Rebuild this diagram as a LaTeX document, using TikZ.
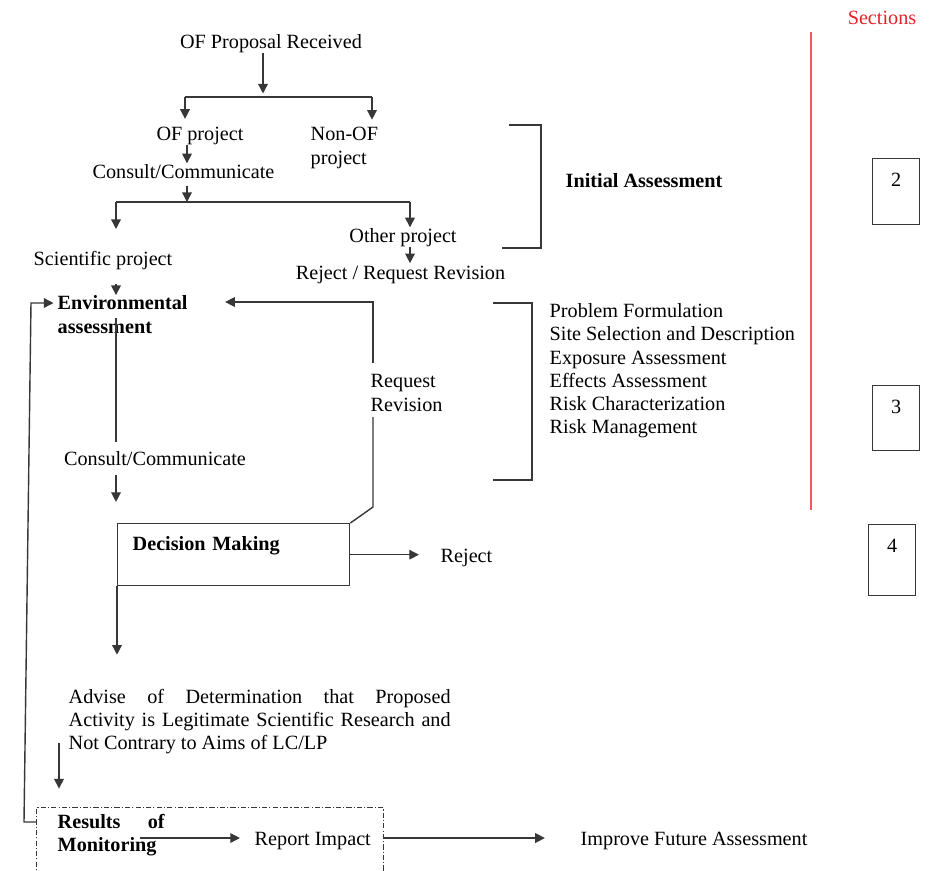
\documentclass[tikz,border=0pt]{standalone}
\usepackage{fontspec}
\setmainfont{Liberation Serif}
\usetikzlibrary{arrows.meta}

\definecolor{secred}{RGB}{232,32,40}
\definecolor{linered}{RGB}{240,90,90}
\definecolor{linegray}{RGB}{55,55,55}

\begin{document}
\begin{tikzpicture}[x=0.02cm, y=-0.02cm, line width=0.8pt]
        \tikzset{
          lbl/.style={inner sep=0pt, font=\fontsize{11.5}{13.2}\selectfont},
          bold/.style={lbl, font=\fontsize{11.5}{13.2}\selectfont\bfseries},
          arr/.style={draw=linegray, -{Triangle[length=5.5pt,width=5.5pt]}},
          ln/.style={draw=linegray},
          decbox/.style={bold, draw=linegray, align=left, text width=4.04cm,
            inner xsep=0.3cm, inner ysep=0pt, text height=0.54cm, text depth=0.7cm},
          monbox/.style={draw=linegray, line width=0.7pt, inner sep=0pt,
            minimum width=6.94cm, minimum height=1.7cm,
            dash pattern={on 3pt off 1.2pt on 0.6pt off 1.2pt}},
          secbox/.style={lbl, draw=linegray, minimum width=0.94cm, text height=0.56cm}
        }
        \useasboundingbox (0,0) rectangle (935,870);
        \clip (0,0) rectangle (935,870);

        % — initial screening —
        \node[lbl, anchor=base] (prop) at (271,48) {OF Proposal Received};
        \coordinate (s1) at (263,97);
        \coordinate (s1l) at (185,97);
        \coordinate (s1r) at (372,97);
        \node[lbl, anchor=base] (ofp) at (200,140) {OF project};
        \node[lbl, anchor=base west, align=left] (nonof) at (310,164) {Non-OF\\project};
        \node[lbl, anchor=base] (cons1) at (183.5,178) {Consult/Communicate};
        \coordinate (s2) at (187,202);
        \coordinate (s2l) at (116,202);
        \coordinate (s2r) at (410,202);
        \node[lbl, anchor=base] (other) at (403,242) {Other project};
        \node[lbl, anchor=base] (sci) at (103,265) {Scientific project};
        \node[lbl, anchor=base] (rejrev) at (400.5,279) {Reject / Request Revision};

        \draw[arr, shorten >=2pt] (prop.south -| s1) -- (s1);
        \draw[ln] (s1l) -- (s1r);
        \draw[arr, shorten >=4pt] (s1l) -- (ofp.north -| s1l);
        \draw[arr, shorten >=4pt] (s1r) -- (nonof.north -| s1r);
        \draw[arr] (ofp.south -| s2) -- (cons1.north -| s2);
        \draw[arr, shorten <=4pt] (cons1.south -| s2) -- (s2);
        \draw[ln] (s2l) -- (s2r);
        \draw[arr, shorten >=12pt] (s2l) -- (sci.north -| s2l);
        \draw[arr] (s2r) -- (other.north -| s2r);
        \draw[arr, shorten >=1pt] (other.south -| s2r) -- (rejrev.north -| s2r);

        % — environmental assessment and decision —
        \node[bold, anchor=base west, align=left] (env) at (57,333) {Environmental\\assessment};
        \draw[arr, shorten <=8pt] (sci.south -| s2l) -- (env.north -| s2l);
        \coordinate (e1) at (116,318);
        \node[lbl, anchor=base] (cons2) at (155,465) {Consult/Communicate};
        \draw[ln, shorten >=5pt] (e1) -- (cons2.north -| e1);
        \node[decbox, anchor=north west] (dec) at (117,523) {Decision Making};
        \draw[arr, shorten <=5pt, shorten >=12pt] (cons2.south -| e1) -- (dec.north -| e1);
        \node[lbl, anchor=base west] (rej) at (440,562) {Reject};
        \draw[arr, shorten >=12pt] (dec.east) -- (rej.west |- dec.east);

        % request revision loop
        \node[lbl, anchor=base west, align=left] (reqrev) at (370,411) {Request\\Revision};
        \coordinate (r1) at (373,507);
        \coordinate (r2) at (373,302);
        \draw[ln, shorten >=3pt] (dec.north east) -- (r1) -- (reqrev.south -| r1);
        \draw[arr, shorten <=6pt, shorten >=21pt] (reqrev.north -| r1) -- (r2) -- (env.east |- r2);

        % — determination and monitoring —
        \node[lbl, anchor=base west, text width=7.64cm, align=justify] (advise) at (68,703)
          {Advise of Determination that Proposed\linebreak Activity is Legitimate Scientific Research and\linebreak Not Contrary to Aims of LC/LP};
        \draw[arr, shorten >=19pt] (dec.south west) -- (dec.south west |- advise.north);
        \node[monbox, anchor=north west] (mon) at (36,807) {};
        \coordinate (a1) at (59,743);
        \draw[arr, shorten >=10.5pt] (a1) -- (a1 |- mon.north);
        \node[bold, anchor=base west, text width=2.14cm, align=left] (results) at (57,828) {Results \hfill of\\Monitoring};
        \node[lbl, anchor=base west] (report) at (254,845) {Report Impact};
        \node[lbl, anchor=base west] (improve) at (580,845) {Improve Future Assessment};
        \coordinate (m1) at (140,838);
        \draw[arr, shorten >=8pt] (m1) -- (report.west |- m1);
        \draw[arr, shorten >=20pt] (mon.east |- m1) -- (improve.west |- m1);

        % feedback to assessment
        \coordinate (l1) at (24,822);
        \coordinate (l2) at (31,303);
        \draw[arr, shorten >=2pt] (mon.west |- l1) -- (l1) -- (l2) -- (env.west |- l2);

        % — brackets and step list —
        \draw[ln] (509,125) -- (541,125) -- (541,248) -- (502,248);
        \node[bold, anchor=base] (initial) at (644,187) {Initial Assessment};
        \draw[ln] (493,303) -- (532,303) -- (532,480) -- (493,480);
        \node[lbl, anchor=base west, align=left] (steps) at (549,433.7)
          {Problem Formulation\\Site Selection and Description\\Exposure Assessment\\Effects Assessment\\Risk Characterization\\Risk Management};

        % — sections column —
        \node[lbl, anchor=base, text=secred] (sec) at (882,24) {Sections};
        \draw[linered, line width=1pt] (811,32) -- (811,510);
        \node[secbox, text depth=0.76cm, anchor=north west] (box2) at (872,158) {2};
        \node[secbox, text depth=0.74cm, anchor=north west] (box3) at (872,385) {3};
        \node[secbox, text depth=0.86cm, anchor=north west] (box4) at (868,524) {4};

\end{tikzpicture}
\end{document}
